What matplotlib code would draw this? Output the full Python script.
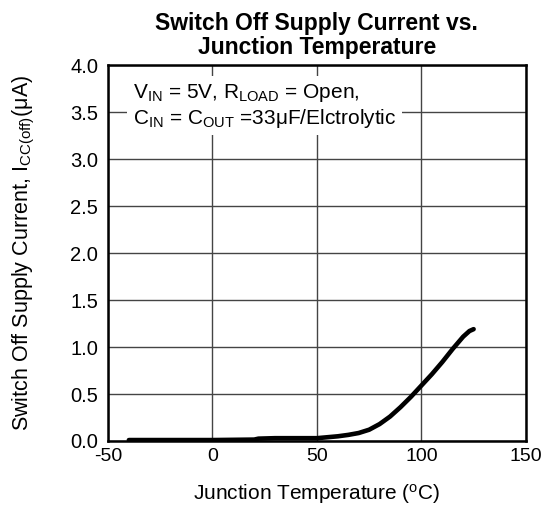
import matplotlib
matplotlib.use("Agg")
import matplotlib.pyplot as plt

plt.rcParams['font.family'] = ['Liberation Sans', 'DejaVu Sans']
plt.rcParams['mathtext.fontset'] = 'custom'
plt.rcParams['mathtext.rm'] = 'Liberation Sans'
plt.rcParams['mathtext.it'] = 'Liberation Sans'
plt.rcParams['axes.unicode_minus'] = False

temp = [-40, -20, 0, 20, 22, 30, 40, 50, 55, 60, 65, 70, 75, 80, 85, 90, 95,
        100, 105, 110, 115, 120, 123, 125]
icc = [0.01, 0.01, 0.01, 0.015, 0.025, 0.03, 0.03, 0.03, 0.04, 0.05, 0.065,
       0.085, 0.12, 0.18, 0.26, 0.36, 0.47, 0.59, 0.71, 0.84, 0.98, 1.11, 1.17, 1.19]

xticks = [-50, 0, 50, 100, 150]
yticks = [0.0, 0.5, 1.0, 1.5, 2.0, 2.5, 3.0, 3.5, 4.0]

fig = plt.figure(figsize=(5.41, 5.09), dpi=100)
ax = fig.add_axes([0.1996, 0.1336, 0.7724, 0.7386])

ax.plot(temp, icc, color='black', lw=3.3, solid_capstyle='round',
        solid_joinstyle='round', zorder=3)

ax.set_xlim(-50, 150)
ax.set_ylim(0, 4.0)
ax.set_xticks(xticks)
ax.set_yticks(yticks)
ax.set_yticklabels([f"{v:.1f}" for v in yticks])
ax.grid(True, color='#444444', lw=1)
ax.tick_params(axis='x', length=0, labelsize=14, pad=5)
ax.tick_params(axis='y', length=0, labelsize=14.5, pad=7)
for s in ax.spines.values():
    s.set_linewidth(1.8)
    s.set_color('black')

ax.text(-38, 3.82, "V$_{\\mathrm{IN}}$ = 5V, R$_{\\mathrm{LOAD}}$ = Open,\nC$_{\\mathrm{IN}}$ = C$_{\\mathrm{OUT}}$ =33\u03bcF/Elctrolytic",
        fontsize=15, va='top', ha='left', linespacing=1.15,
        bbox=dict(facecolor='white', edgecolor='none', pad=4), zorder=4)

ax.set_title("Switch Off Supply Current vs.\nJunction Temperature",
             fontsize=16.5, fontweight='bold', linespacing=1.05, pad=8)
ax.set_xlabel("Junction Temperature ($^{\\mathrm{o}}$C)", fontsize=15, labelpad=12)
ax.set_ylabel("Switch Off Supply Current, I$_{\\mathrm{CC(off)}}$(\u03bcA)", fontsize=15.5, labelpad=24)

fig.savefig("out.png", dpi=100)
